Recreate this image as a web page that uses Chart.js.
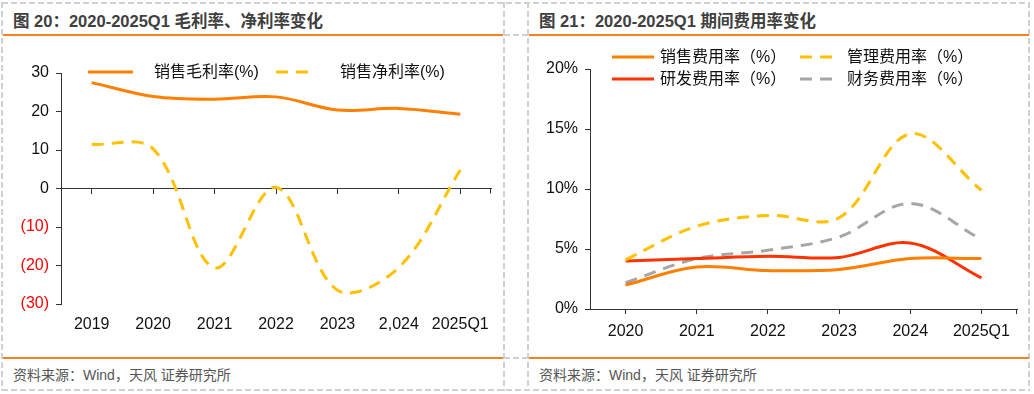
<!DOCTYPE html>
<html>
<head>
<meta charset="utf-8">
<script src="https://cdn.jsdelivr.net/npm/chart.js@4.4.1/dist/chart.umd.min.js"></script>
<style>
  html, body { margin: 0; padding: 0; background: #fff; }
  body {
    width: 1034px; height: 394px; position: relative; overflow: hidden;
    font-family: "Liberation Sans", "Noto Sans CJK SC", sans-serif;
  }
  .dash-h { position: absolute; height: 2px;
    background: repeating-linear-gradient(to right, #d0d0d0 0 6px, transparent 6px 9px); }
  .dash-v { position: absolute; width: 2px;
    background: repeating-linear-gradient(to bottom, #d0d0d0 0 6px, transparent 6px 9px); }
  .rule { position: absolute; height: 2px; background: #f5821f; }
  .title { position: absolute; top: 11px; font-size: 16.5px; font-weight: bold;
    color: #404040; line-height: 20px; white-space: nowrap; }
  .source { position: absolute; top: 366px; font-size: 14px; color: #555;
    line-height: 18px; white-space: nowrap; }
  .chart { position: absolute; top: 36px; }
</style>
</head>
<body>
  <!-- table frame -->
  <div class="dash-h" style="left:2px; top:2px; width:1028px"></div>
  <div class="dash-h" style="left:2px; top:389px; width:1028px"></div>
  <div class="dash-h" style="left:504px; top:34px; width:24px"></div>
  <div class="dash-h" style="left:504px; top:357px; width:24px"></div>
  <div class="dash-v" style="left:1px; top:2px; height:389px"></div>
  <div class="dash-v" style="left:503px; top:2px; height:389px"></div>
  <div class="dash-v" style="left:527px; top:2px; height:389px"></div>
  <div class="dash-v" style="left:1028px; top:2px; height:389px"></div>

  <div class="rule" style="left:3px; top:34px; width:500px"></div>
  <div class="rule" style="left:529px; top:34px; width:500px"></div>
  <div class="rule" style="left:3px; top:357px; width:500px"></div>
  <div class="rule" style="left:529px; top:357px; width:500px"></div>

  <div class="title" style="left:13px">图 20：2020-2025Q1 毛利率、净利率变化</div>
  <div class="title" style="left:539px">图 21：2020-2025Q1 期间费用率变化</div>
  <div class="source" style="left:13px">资料来源：Wind，天风 证券研究所</div>
  <div class="source" style="left:539px">资料来源：Wind，天风 证券研究所</div>

  <canvas id="margin-chart" class="chart" style="left:3px" width="500" height="320"></canvas>
  <canvas id="expense-chart" class="chart" style="left:529px" width="500" height="320"></canvas>

<script>
// Chart data
const marginYears = ["2019", "2020", "2021", "2022", "2023", "2,024", "2025Q1"];
const grossMargin = [27.5, 23.9, 23.2, 23.8, 20.4, 20.8, 19.3];
const netMargin = [11.5, 10.3, -20.6, 0.3, -26.4, -20.5, 4.8];
const marginAxis = { min: -30, max: 30, step: 10 };

const expenseYears = ["2020", "2021", "2022", "2023", "2024", "2025Q1"];
const sellingRate = [2.0, 3.5, 3.2, 3.3, 4.2, 4.2];
const adminRate = [4.1, 6.9, 7.8, 7.6, 14.6, 9.9];
const rdRate = [4.0, 4.2, 4.4, 4.3, 5.5, 2.6];
const financeRate = [2.2, 4.2, 4.9, 6.0, 8.8, 5.8];
const expenseAxis = { min: 0, max: 20, step: 5 };

// Colours
const ORANGE = "#ff7f00";
const YELLOW = "#ffc000";
const RED = "#ff3300";
const GREY = "#a6a6a6";
const INK = "#111111";
const AXIS = "#333333";

Chart.defaults.font.family = '"Liberation Sans", "Noto Sans CJK SC", sans-serif';
Chart.defaults.font.size = 16;
Chart.defaults.color = INK;

// Legend drawn as line samples at fixed spots inside the plot
const lineLegend = {
  id: "lineLegend",
  afterDraw(chart, args, opts) {
    const { ctx } = chart;
    chart.data.datasets.forEach((ds, i) => {
      const item = opts.items[i];
      if (!item) return;
      ctx.save();
      ctx.strokeStyle = ds.borderColor;
      ctx.lineWidth = ds.borderWidth;
      ctx.setLineDash(ds.borderDash || []);
      ctx.beginPath();
      ctx.moveTo(item.x, item.y);
      ctx.lineTo(item.x + item.w, item.y);
      ctx.stroke();
      ctx.setLineDash([]);
      ctx.fillStyle = INK;
      ctx.font = '16px "Liberation Sans", "Noto Sans CJK SC", sans-serif';
      ctx.textBaseline = "middle";
      ctx.fillText(ds.label, item.tx, item.y + 1);
      ctx.restore();
    });
  },
};

// Small closing tick at the right end of the category axis
const endTick = {
  id: "endTick",
  afterDraw(chart) {
    const { ctx, chartArea } = chart;
    const y = chart.scales.y.getPixelForValue(0);
    ctx.save();
    ctx.strokeStyle = AXIS;
    ctx.lineWidth = 1;
    ctx.beginPath();
    ctx.moveTo(Math.round(chartArea.right) - 0.5, y);
    ctx.lineTo(Math.round(chartArea.right) - 0.5, y + 5);
    ctx.stroke();
    ctx.restore();
  },
};

const lineDataset = (label, data, color, dashed) => ({
  label,
  data,
  borderColor: color,
  backgroundColor: color,
  borderWidth: 3,
  borderDash: dashed ? [12, 8] : [],
  tension: 0.35,
  pointRadius: 0,
  fill: false,
});

const yAxis = (range, width, format, color) => ({
  min: range.min,
  max: range.max,
  afterFit: (scale) => { scale.width = width; },
  grid: { drawOnChartArea: false, drawTicks: true, tickLength: 5, color: AXIS },
  border: { display: true, color: AXIS },
  ticks: { stepSize: range.step, padding: 7, callback: format, color },
});

// Figure 20: margins
const initializeMarginChart = () => {
  const canvas = document.getElementById("margin-chart");
  if (!canvas) return;

  new Chart(canvas, {
    type: "line",
    data: {
      labels: marginYears,
      datasets: [
        lineDataset("销售毛利率(%)", grossMargin, ORANGE, false),
        lineDataset("销售净利率(%)", netMargin, YELLOW, true),
      ],
    },
    options: {
      responsive: false,
      animation: false,
      layout: { padding: { top: 37, right: 12, left: 0, bottom: 0 } },
      plugins: {
        legend: { display: false },
        tooltip: { enabled: false },
        lineLegend: {
          items: [
            { x: 85, y: 36, w: 45, tx: 151 },
            { x: 273, y: 36, w: 34, tx: 337 },
          ],
        },
      },
      scales: {
        x: {
          type: "category",
          offset: true,
          afterFit: (scale) => { scale.height = 52; },
          grid: { display: false, drawTicks: false },
          border: { display: false },
          ticks: { padding: 11, maxRotation: 0, autoSkip: false },
        },
        zero: {
          type: "category",
          axis: "x",
          position: { y: 0 },
          offset: true,
          grid: { drawOnChartArea: false, drawTicks: true, tickLength: 5, color: AXIS },
          border: { display: true, color: AXIS },
          ticks: { display: false },
        },
        y: yAxis(
          marginAxis,
          58,
          (v) => (v < 0 ? "(" + Math.abs(v) + ")" : String(v)),
          (c) => (c.tick && c.tick.value < 0 ? "#ff0000" : INK)
        ),
      },
    },
    plugins: [lineLegend, endTick],
  });
};

// Figure 21: expense ratios
const initializeExpenseChart = () => {
  const canvas = document.getElementById("expense-chart");
  if (!canvas) return;

  new Chart(canvas, {
    type: "line",
    data: {
      labels: expenseYears,
      datasets: [
        lineDataset("销售费用率（%）", sellingRate, ORANGE, false),
        lineDataset("管理费用率（%）", adminRate, YELLOW, true),
        lineDataset("研发费用率（%）", rdRate, RED, false),
        lineDataset("财务费用率（%）", financeRate, GREY, true),
      ],
    },
    options: {
      responsive: false,
      animation: false,
      layout: { padding: { top: 33, right: 12, left: 0, bottom: 0 } },
      plugins: {
        legend: { display: false },
        tooltip: { enabled: false },
        lineLegend: {
          items: [
            { x: 83, y: 21, w: 42, tx: 131 },
            { x: 271, y: 21, w: 37, tx: 318 },
            { x: 83, y: 43, w: 42, tx: 131 },
            { x: 271, y: 43, w: 37, tx: 318 },
          ],
        },
      },
      scales: {
        x: {
          type: "category",
          offset: true,
          afterFit: (scale) => { scale.height = 47; },
          grid: { drawOnChartArea: false, drawTicks: true, tickLength: 5, color: AXIS },
          border: { display: true, color: AXIS },
          ticks: { padding: 8, maxRotation: 0, autoSkip: false },
        },
        y: yAxis(expenseAxis, 61, (v) => v + "%", INK),
      },
    },
    plugins: [lineLegend, endTick],
  });
};

try {
  initializeMarginChart();
  initializeExpenseChart();
} catch (error) {
  console.error("Error drawing charts:", error);
}
</script>
</body>
</html>
